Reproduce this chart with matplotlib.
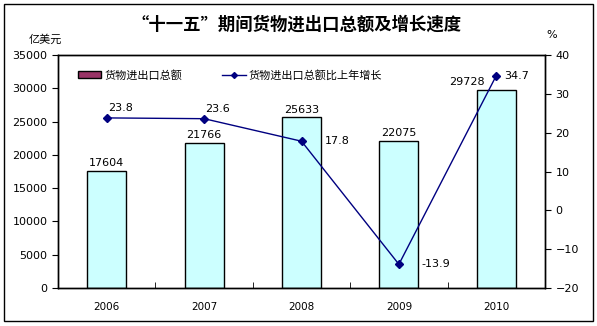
import numpy as np
import matplotlib.pyplot as plt
from matplotlib.patches import Rectangle
from matplotlib.lines import Line2D

plt.rcParams['font.family'] = ['Noto Sans CJK SC', 'DejaVu Sans']

years = ['2006', '2007', '2008', '2009', '2010']
total = [17604, 21766, 25633, 22075, 29728]
growth = [23.8, 23.6, 17.8, -13.9, 34.7]

W, H = 597, 326
fig = plt.figure(figsize=(W / 100, H / 100), dpi=100)

# outer frame
fig.add_artist(Rectangle((4 / W, 1 - 321 / H), 589 / W, 317 / H,
                         transform=fig.transFigure, fill=False,
                         edgecolor='black', lw=1))

left, right, top, bottom = 58, 545, 55, 288
ax = fig.add_axes([left / W, 1 - bottom / H, (right - left) / W, (bottom - top) / H])
ax2 = ax.twinx()

x = np.arange(len(years))
ax.bar(x, total, width=0.4, color='#CCFFFF', edgecolor='black', lw=1, zorder=2)
# last bar label sits left of the line
bar_dx = [0, 0, 0, 0, -21]
for xi, v, dx in zip(x, total, bar_dx):
    ax.annotate(str(v), (xi, v), xytext=(dx, 2), textcoords='offset points',
                ha='center', va='bottom', fontsize=8, family='DejaVu Sans')

ax.set_xlim(-0.5, len(years) - 0.5)
ax.set_ylim(0, 35000)
ax.set_yticks(range(0, 35001, 5000))
ax.set_xticks(x)
ax.set_xticklabels(years, fontsize=7.5, family='DejaVu Sans')
ax.set_xticks(np.arange(0.5, len(years) - 1, 1), minor=True)
ax.tick_params(axis='x', which='major', length=0, pad=10)
ax.tick_params(axis='x', which='minor', length=4, direction='in')
ax.tick_params(axis='y', labelsize=8, length=4, direction='out')
for t in ax.get_yticklabels():
    t.set_family('DejaVu Sans')

ax2.plot(x, growth, color='#000080', lw=1, marker='D', markersize=4, zorder=3)
ax2.set_ylim(-20, 40)
ax2.set_yticks(range(-20, 41, 10))
ax2.tick_params(axis='y', labelsize=8, length=4, direction='out')
for t in ax2.get_yticklabels():
    t.set_family('DejaVu Sans')

offsets = [(10, 7, 'center'), (10, 7, 'center'), (17, 0, 'left'),
           (16, 0, 'left'), (6, 0, 'left')]
for xi, g, (dx, dy, ha) in zip(x, growth, offsets):
    ax2.annotate(f'{g}', (xi, g), xytext=(dx, dy), textcoords='offset points',
                 ha=ha, va='center', fontsize=8, family='DejaVu Sans')

for a in (ax, ax2):
    for s in a.spines.values():
        s.set_linewidth(1)

handles = [Rectangle((0, 0), 1, 1, facecolor='#993366', edgecolor='black', lw=1),
           Line2D([], [], color='#000080', lw=1, marker='D', markersize=3)]
ax.legend(handles, ['货物进出口总额', '货物进出口总额比上年增长'],
          loc='upper left', bbox_to_anchor=(0.02, 0.98), ncol=2, frameon=False,
          fontsize=8, handlelength=2.1, handletextpad=0.3, columnspacing=3.6)

fig.text(297 / W, 1 - 25 / H, '“十一五”期间货物进出口总额及增长速度',
         ha='center', va='center', fontsize=12.5, fontweight='bold')
fig.text(45 / W, 1 - 40 / H, '亿美元', ha='center', va='center', fontsize=8)
fig.text(552 / W, 1 - 35 / H, '%', ha='center', va='center', fontsize=8,
         family='DejaVu Sans')

fig.savefig('out.png', dpi=100)
